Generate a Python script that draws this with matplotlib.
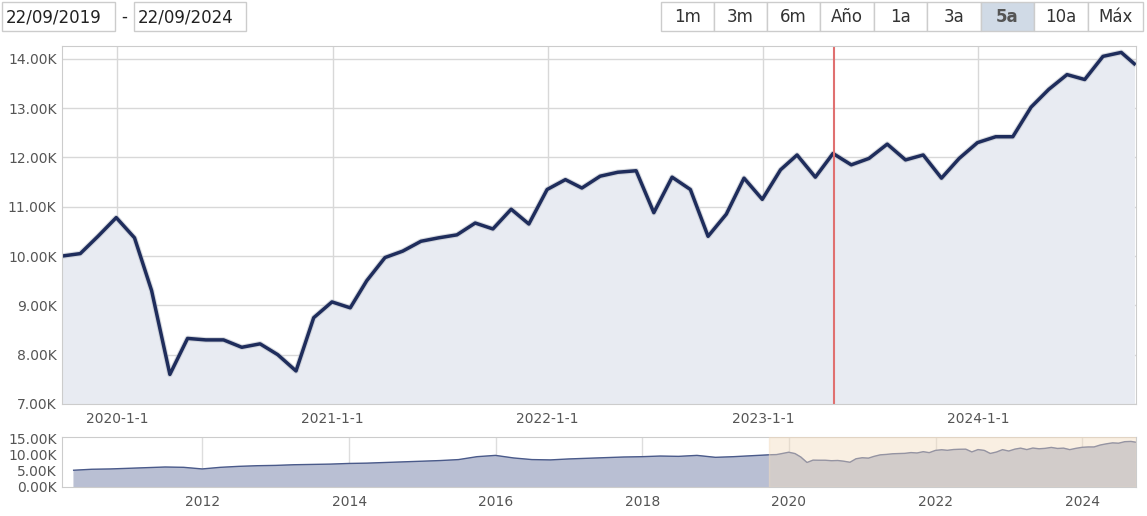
import matplotlib
matplotlib.use("Agg")
import matplotlib.pyplot as plt
import matplotlib.dates as mdates
import pandas as pd
from matplotlib.patches import Rectangle

values = [10.0,10.05,10.4,10.78,10.37,9.3,7.6,8.33,8.3,8.3,8.15,8.22,8.0,7.67,8.75,9.07,8.95,9.5,9.97,10.1,
          10.3,10.37,10.43,10.67,10.55,10.95,10.65,11.35,11.55,11.38,11.62,11.7,11.73,10.88,11.6,11.35,10.4,10.85,11.58,11.15,
          11.75,12.05,11.6,12.08,11.85,11.98,12.27,11.95,12.05,11.58,11.98,12.3,12.42,12.42,13.02,13.38,13.68,13.58,14.05,14.13,13.9]
dates = list(pd.date_range("2019-09-30", periods=len(values)-1, freq="ME")) + [pd.Timestamp("2024-09-22")]

nav_dates = list(pd.date_range("2010-01-31", "2019-08-31", freq="QE"))
nav_values = [5.2,5.5,5.6,5.8,6.0,6.2,6.1,5.6,6.1,6.4,6.6,6.7,6.9,7.0,7.1,7.3,7.4,7.6,7.8,8.0,
              8.2,8.5,9.4,9.8,9.0,8.5,8.4,8.7,8.9,9.1,9.3,9.4,9.6,9.5,9.8,9.2,9.4,9.7,9.9][:len(nav_dates)]

W, H = 1147, 516
fig = plt.figure(figsize=(W/100, H/100), dpi=100)
fs = 10
tc = "#555555"

ax = fig.add_axes([62/W, 1-404/H, (1136-62)/W, (404-46)/H])
ax.fill_between(dates, values, 0, color="#e8ebf2")
ax.plot(dates, values, color="#bfc3cc", lw=4, alpha=0.6)
ax.plot(dates, values, color="#1f2d5c", lw=2.5)
ax.set_xlim(pd.Timestamp("2019-09-30"), pd.Timestamp("2024-09-25"))
ax.set_ylim(7, 14.26)
ax.set_yticks(range(7, 15))
ax.set_yticklabels([f"{v}.00K" for v in range(7, 15)], fontsize=fs, color=tc)
ax.xaxis.set_major_locator(mdates.YearLocator())
ax.xaxis.set_major_formatter(mdates.DateFormatter("%Y-1-1"))
ax.grid(True, color="#d8d8d8", lw=1)
ax.set_axisbelow(True)
ax.axvline(pd.Timestamp("2023-05-01"), color="#e07070", lw=1.5)
ax.tick_params(axis="x", labelsize=fs, colors=tc, length=0, pad=6)
ax.tick_params(axis="y", length=0, pad=4)
for s in ax.spines.values():
    s.set_color("#cccccc")

ax2 = fig.add_axes([62/W, 1-487/H, (1136-62)/W, (487-437)/H])
ad = nav_dates + dates
av = nav_values + values
ax2.fill_between(ad, av, 0, color="#b9bfd3")
ax2.plot(ad, av, color="#4a5a8a", lw=1)
x0 = mdates.date2num(pd.Timestamp("2019-09-22"))
x1 = mdates.date2num(pd.Timestamp("2024-09-25"))
ax2.axvspan(x0, x1, color="#f2dcc0", alpha=0.45, zorder=3)
ax2.set_xlim(pd.Timestamp("2010-02-01"), pd.Timestamp("2024-09-25"))
ax2.set_ylim(0, 15.5)
ax2.set_yticks([0, 5, 10, 15])
ax2.set_yticklabels(["0.00K", "5.00K", "10.00K", "15.00K"], fontsize=fs, color=tc)
ax2.xaxis.set_major_locator(mdates.YearLocator(2))
ax2.xaxis.set_major_formatter(mdates.DateFormatter("%Y"))
ax2.tick_params(axis="x", labelsize=fs, colors=tc, length=0, pad=6)
ax2.tick_params(axis="y", length=0, pad=4)
ax2.grid(True, axis="x", color="#dddddd", lw=1)
ax2.set_axisbelow(True)
for s in ax2.spines.values():
    s.set_color("#cccccc")

for x, w, t in [(2, 113, "22/09/2019"), (134, 112, "22/09/2024")]:
    fig.patches.append(Rectangle((x/W, 1-31/H), w/W, 29/H, transform=fig.transFigure,
                                 fc="white", ec="#cccccc", lw=1))
    fig.text((x+4)/W, 1-17/H, t, fontsize=12, va="center", ha="left", color="#222222")
fig.text(124/W, 1-17/H, "-", fontsize=12, va="center", ha="center", color="#222222")

buttons = ["1m", "3m", "6m", "Año", "1a", "3a", "5a", "10a", "Máx"]
bx = [661, 714, 767, 820, 874, 927, 981, 1034, 1088, 1143]
for i, b in enumerate(buttons):
    sel = b == "5a"
    fig.patches.append(Rectangle((bx[i]/W, 1-31/H), (bx[i+1]-bx[i])/W, 29/H, transform=fig.transFigure,
                                 fc="#d0dae6" if sel else "white", ec="#cccccc", lw=1))
    fig.text((bx[i]+bx[i+1])/2/W, 1-17/H, b, fontsize=12, va="center", ha="center",
             color="#555555" if sel else "#333333", weight="bold" if sel else "normal")

fig.savefig("out.png", dpi=100)
